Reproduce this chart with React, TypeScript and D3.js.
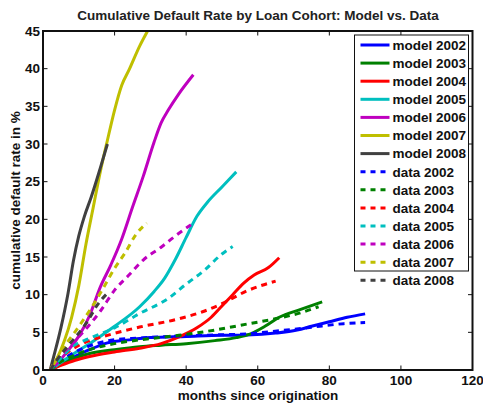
import React from "react";
import * as d3 from "d3";

const years = ["2002", "2003", "2004", "2005", "2006", "2007", "2008"];
const colors = ["#0000ff", "#008000", "#ff0000", "#00bfbf", "#bf00bf", "#bfbf00", "#404040"];

// model curves: [months, cumulative default %]
const model2002: [number, number][] = [[2, 0], [5, 0.8], [9, 1.8], [13, 2.7], [18, 3.6], [24, 4.0], [30, 4.3], [40, 4.45], [50, 4.6], [57, 4.65], [65, 4.9], [71, 5.3], [75, 5.8], [80, 6.4], [85, 7.0], [90, 7.45]];
const model2003: [number, number][] = [[2, 0], [5, 0.7], [9, 1.6], [13, 2.2], [20, 2.7], [27, 3.1], [33, 3.3], [40, 3.5], [48, 3.9], [54, 4.3], [58, 4.8], [62, 5.8], [66, 7.0], [72, 8.05], [78, 9.05]];
const model2004: [number, number][] = [[2, 0], [5, 0.6], [9, 1.3], [13, 1.8], [20, 2.4], [27, 2.9], [33, 3.5], [38, 4.4], [43, 5.6], [47, 7.0], [50, 8.5], [53, 10.0], [56, 11.5], [59, 12.6], [63, 13.6], [66, 14.9]];
const model2005: [number, number][] = [[2, 0], [5, 1.0], [9, 2.3], [13, 3.5], [20, 5.8], [27, 8.4], [31, 10.4], [34, 12.2], [37, 14.7], [40, 17.6], [43, 20.4], [46, 22.3], [50, 24.3], [54, 26.3]];
const model2006: [number, number][] = [[2, 0], [4, 0.9], [7, 2.6], [10, 4.5], [13, 7.2], [16, 11.0], [19, 14.0], [22, 17.4], [25, 21.6], [28, 25.7], [31, 30.2], [33, 32.8], [35, 34.5], [38, 36.7], [42, 39.2]];
const model2007: [number, number][] = [[2, 0], [4, 1.6], [6, 3.9], [8, 7.0], [10, 11.2], [12, 16.7], [14, 21.5], [16, 26.3], [18, 30.5], [20, 34.5], [22, 37.8], [24, 39.8], [27, 43.0], [29.2, 45], [31, 46.6]];
const model2008: [number, number][] = [[2, 0], [3, 1.8], [5, 5.6], [7, 10.2], [8.5, 14.5], [10, 17.8], [11.5, 20.3], [13.5, 23.0], [16, 26.8], [18, 30.0]];

// data curves
const data2002: [number, number][] = [[2, 0], [5, 1.2], [9, 2.4], [13, 3.2], [19, 3.95], [27, 4.25], [38, 4.5], [48, 4.65], [57, 4.8], [66, 5.2], [72, 5.5], [78, 5.85], [84, 6.15], [90, 6.3]];
const data2003: [number, number][] = [[2, 0], [5, 1.1], [9, 2.0], [13, 2.7], [20, 3.5], [27, 4.0], [38, 4.6], [48, 5.3], [57, 6.1], [66, 6.9], [72, 7.6], [77, 8.4]];
const data2004: [number, number][] = [[2, 0], [4, 1.2], [7, 2.4], [11, 3.5], [18, 4.6], [27, 5.7], [38, 6.8], [45, 7.8], [50, 8.8], [57, 10.5], [65, 11.8]];
const data2005: [number, number][] = [[2, 0], [5, 1.6], [8.5, 3.2], [13, 4.2], [20, 5.6], [27, 7.5], [35, 9.5], [40, 11.4], [45, 13.2], [50, 15.4], [53, 16.4]];
const data2006: [number, number][] = [[2, 0], [4, 1.5], [7, 2.9], [10, 4.4], [13, 6.0], [16, 7.8], [20, 10.6], [24, 12.6], [28, 14.6], [33, 16.3], [37, 17.8], [42, 19.5]];
const data2007: [number, number][] = [[2, 0], [4, 1.6], [6.5, 3.5], [9, 5.1], [11.5, 6.8], [14, 8.6], [17, 11.0], [20, 13.5], [23, 15.6], [26, 18.0], [29, 19.5]];
const data2008: [number, number][] = [[2, 0], [4, 1.4], [7.5, 3.5], [10, 4.9], [12.5, 6.5], [15, 8.5], [18, 10.2]];

const modelSeries = [model2002, model2003, model2004, model2005, model2006, model2007, model2008];
const dataSeries = [data2002, data2003, data2004, data2005, data2006, data2007, data2008];

const xTicks = [0, 20, 40, 60, 80, 100, 120];
const yTicks = [0, 5, 10, 15, 20, 25, 30, 35, 40, 45];

const title = "Cumulative Default Rate by Loan Cohort: Model vs. Data";
const xLabel = "months since origination";
const yLabel = "cumulative default rate in %";

const W = 483;
const H = 404;
const m = { left: 43, right: 472.5, top: 31, bottom: 370 };
const FONT = "'Liberation Sans', Arial, Helvetica, sans-serif";

export default function App() {
  const x = d3.scaleLinear().domain([0, 120]).range([m.left, m.right]);
  const y = d3.scaleLinear().domain([0, 45]).range([m.bottom, m.top]);
  const line = d3
    .line<[number, number]>()
    .x((d) => x(d[0]))
    .y((d) => y(d[1]))
    .curve(d3.curveMonotoneX);

  const tickLen = 4.5;
  const legendX = 354.5;
  const legendY = 35;
  const legendW = 114;
  const legendH = 236;
  const rowH = 18.1;
  const entries = [
    ...years.map((yr, i) => ({ label: `model ${yr}`, color: colors[i], dashed: false })),
    ...years.map((yr, i) => ({ label: `data ${yr}`, color: colors[i], dashed: true })),
  ];

  return (
    <svg width={W} height={H} style={{ position: "absolute", left: 0, top: 0 }} fontFamily={FONT}>
      <rect x={0} y={0} width={W} height={H} fill="#fff" />
      <defs>
        <clipPath id="plotclip">
          <rect x={m.left} y={m.top} width={m.right - m.left} height={m.bottom - m.top} />
        </clipPath>
      </defs>
      <text x={258} y={20} textAnchor="middle" fontWeight="bold" fontSize={13.5} fill="#222">
        {title}
      </text>
      <g clipPath="url(#plotclip)">
        {modelSeries.map((s, i) => (
          <path key={`m${i}`} d={line(s) || ""} fill="none" stroke={colors[i]} strokeWidth={3} strokeLinejoin="round" />
        ))}
        {dataSeries.map((s, i) => (
          <path key={`d${i}`} d={line(s) || ""} fill="none" stroke={colors[i]} strokeWidth={3} strokeDasharray="6,5" />
        ))}
      </g>
      {/* axes box */}
      <rect x={m.left} y={m.top} width={m.right - m.left} height={m.bottom - m.top} fill="none" stroke="#111" strokeWidth={2} />
      {xTicks.map((t) => (
        <g key={`xt${t}`}>
          <line x1={x(t)} x2={x(t)} y1={m.bottom} y2={m.bottom - tickLen} stroke="#111" strokeWidth={1} />
          <line x1={x(t)} x2={x(t)} y1={m.top} y2={m.top + tickLen} stroke="#111" strokeWidth={1} />
          <text x={x(t)} y={m.bottom + 15} textAnchor="middle" fontWeight="bold" fontSize={13.5} fill="#111">
            {t}
          </text>
        </g>
      ))}
      {yTicks.map((t) => (
        <g key={`yt${t}`}>
          <line x1={m.left} x2={m.left + tickLen} y1={y(t)} y2={y(t)} stroke="#111" strokeWidth={1} />
          <line x1={m.right} x2={m.right - tickLen} y1={y(t)} y2={y(t)} stroke="#111" strokeWidth={1} />
          <text x={m.left - 3} y={y(t) + 4.8} textAnchor="end" fontWeight="bold" fontSize={13.5} fill="#111">
            {t}
          </text>
        </g>
      ))}
      <text x={258} y={400} textAnchor="middle" fontWeight="bold" fontSize={13.5} fill="#111">
        {xLabel}
      </text>
      <text
        transform={`translate(20,${(m.top + m.bottom) / 2}) rotate(-90)`}
        textAnchor="middle"
        fontWeight="bold"
        fontSize={13.5}
        fill="#111"
      >
        {yLabel}
      </text>
      {/* legend */}
      <rect x={legendX} y={legendY} width={legendW} height={legendH} fill="#fff" stroke="#111" strokeWidth={1} />
      {entries.map((e, i) => {
        const cy = legendY + 10 + i * rowH;
        return (
          <g key={`lg${i}`}>
            <line
              x1={legendX + 6}
              x2={legendX + 35}
              y1={cy}
              y2={cy}
              stroke={e.color}
              strokeWidth={3}
              strokeDasharray={e.dashed ? "5,5" : undefined}
            />
            <text x={legendX + 38} y={cy + 4.8} fontWeight="bold" fontSize={13.5} fill="#111">
              {e.label}
            </text>
          </g>
        );
      })}
    </svg>
  );
}
